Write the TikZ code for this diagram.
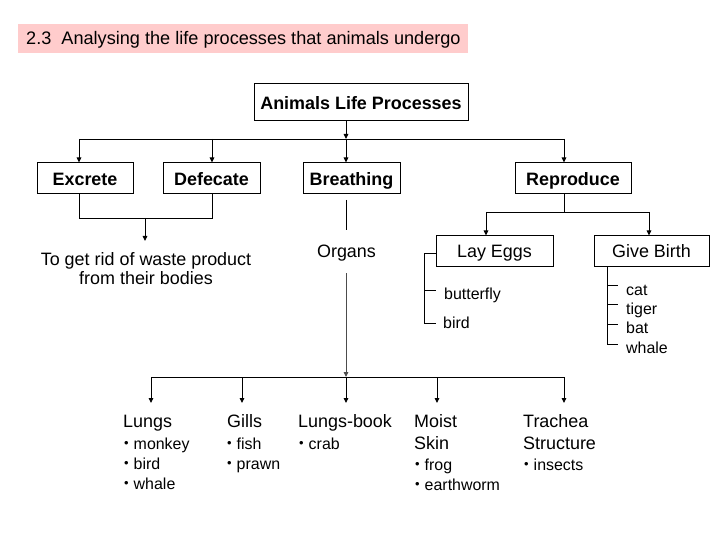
\documentclass[tikz,border=0pt]{standalone}
\usepackage{fontspec}
\setmainfont{Liberation Sans}
\usetikzlibrary{arrows.meta}
\definecolor{titlepink}{HTML}{FFCCCC}
\newcommand{\bl}{{\fontsize{13}{13}\selectfont\raisebox{1.5bp}{•}}\hspace{5bp}}
\tikzset{
  box/.style={draw=black, line width=1bp, inner sep=0pt, text height=13bp, text depth=0bp, font=\fontsize{18}{20}\selectfont},
  bbox/.style={box, text height=14bp, text depth=-1bp, font=\fontsize{18}{20}\selectfont\bfseries},
  conn/.style={line width=0.9bp, draw=black},
  arr/.style={conn, -{Triangle[length=5bp,width=4.5bp]}},
  head/.style={inner sep=0pt, anchor=base west, font=\fontsize{18}{20}\selectfont},
  item/.style={inner sep=0pt, anchor=base west, font=\fontsize{16}{18}\selectfont},
}
\begin{document}
\begin{tikzpicture}[x=1bp,y=-1bp]
\useasboundingbox (0,0) rectangle (728,546);
% title
\node[fill=titlepink, minimum width=450bp, minimum height=29bp, inner sep=0pt] (title) at (243,38.5) {};
\node[head, font=\fontsize{18.2}{20}\selectfont] (titletext) at (26,45) {2.3\ \ Analysing the life processes that animals undergo};
% boxes
\node[bbox, minimum width=214bp, minimum height=37bp] (top) at (361,102.5) {Animals Life Processes};
\node[bbox, minimum width=96bp, minimum height=31bp] (excrete) at (85,178.5) {Excrete};
\node[bbox, minimum width=97bp, minimum height=31bp] (defecate) at (211.5,178.5) {Defecate};
\node[bbox, minimum width=97bp, minimum height=31bp] (breathing) at (351.5,178.5) {Breathing};
\node[bbox, minimum width=116bp, minimum height=31bp] (reproduce) at (573,178.5) {Reproduce};
\node[box, minimum width=117bp, minimum height=30bp] (layeggs) at (494.5,251) {Lay Eggs};
\node[box, minimum width=115bp, minimum height=30bp] (givebirth) at (651.5,251) {Give Birth};
% junctions
\coordinate (j1) at (346,139);
\coordinate (jl) at (79,139);
\coordinate (jd) at (212,139);
\coordinate (jr) at (564,139);
% top connectors
\draw[arr] (top.south -| j1) -- (j1);
\draw[conn] (jl) -- (jr);
\draw[arr] (j1) -- (breathing.north -| j1);
\draw[arr] (jl) -- (excrete.north -| jl);
\draw[arr] (jd) -- (defecate.north -| jd);
\draw[arr] (jr) -- (reproduce.north -| jr);
% waste
\node[inner sep=0pt, align=center, font=\fontsize{18}{20}\selectfont, anchor=base] (waste) at (146,285) {To get rid of waste product\\from their bodies};
\coordinate (wl) at (79,218);
\coordinate (wr) at (212,218);
\coordinate (wm) at (145,218);
\draw[conn] (excrete.south -| wl) -- (wl) -- (wr) -- (defecate.south -| wr);
\draw[arr] (wm) -- (145,241) coordinate (wt);
% breathing / organs
\node[inner sep=0pt, anchor=base, font=\fontsize{18}{20}\selectfont] (organs) at (346.5,258) {Organs};
\coordinate (b1) at (346,200);
\coordinate (b2) at (346,230);
\draw[conn] (b1) -- (b2);
\coordinate (o1) at (346,273);
\coordinate (j2) at (346,377);
\draw[arr, draw=black!70] (o1) -- (j2);
% bottom distribution
\coordinate (k1) at (151,377);
\coordinate (k2) at (242,377);
\coordinate (k4) at (437,377);
\coordinate (k5) at (564,377);
\draw[conn] (k1) -- (k5);
\foreach \k in {k1,k2,j2,k4,k5} \draw[arr] (\k) -- ++(0,26);
% bottom texts
\node[head] (lungs) at (123,427) {Lungs};
\node[item] (lungs1) at (124,449) {\bl monkey};
\node[item] (lungs2) at (124,469) {\bl bird};
\node[item] (lungs3) at (124,489) {\bl whale};
\node[head] (gills) at (227,427) {Gills};
\node[item] (gills1) at (227,449) {\bl fish};
\node[item] (gills2) at (227,469) {\bl prawn};
\node[head] (lbook) at (298,427) {Lungs-book};
\node[item] (lbook1) at (299,449) {\bl crab};
\node[head] (moist) at (414,427) {Moist};
\node[head] (skin) at (414,449) {Skin};
\node[item] (moist1) at (415,470) {\bl frog};
\node[item] (moist2) at (415,490) {\bl earthworm};
\node[head] (trachea) at (523,427) {Trachea};
\node[head] (struct) at (523,449) {Structure};
\node[item] (trachea1) at (524,470) {\bl insects};
% reproduce branches
\coordinate (r1) at (564,212);
\coordinate (rl) at (486,212);
\coordinate (rr) at (649,212);
\draw[conn] (reproduce.south -| r1) -- (r1);
\draw[conn] (rl) -- (rr);
\draw[arr] (rl) -- (layeggs.north -| rl);
\draw[arr] (rr) -- (givebirth.north -| rr);
% lay eggs list
\node[item] (butterfly) at (444,299) {butterfly};
\node[item] (birdegg) at (443,328) {bird};
\coordinate (le1) at (424,253);
\coordinate (le2) at (424,323);
\coordinate (le3) at (436,323);
\coordinate (lt1) at (424,290);
\coordinate (lt2) at (436,290);
\draw[conn] (layeggs.west |- le1) -- (le1) -- (le2) -- (le3);
\draw[conn] (lt1) -- (lt2);
% give birth list
\node[item] (cat) at (626,295) {cat};
\node[item] (tiger) at (626,314) {tiger};
\node[item] (bat) at (626,333) {bat};
\node[item] (whale) at (626,353) {whale};
\coordinate (g0) at (607,266);
\coordinate (g4) at (607,344);
\draw[conn] (givebirth.south -| g0) -- (g4) -- (618,344);
\foreach \yy in {285,304,324} \draw[conn] (607,\yy) -- (618,\yy);
\end{tikzpicture}
\end{document}
